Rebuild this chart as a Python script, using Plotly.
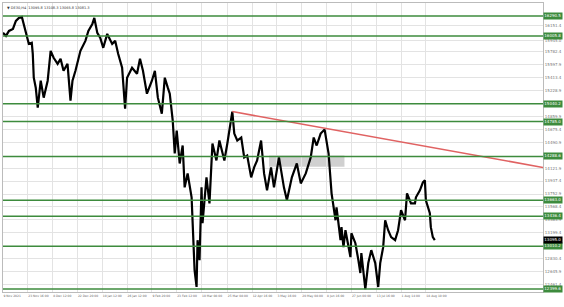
import plotly.graph_objects as go

# ---- data ----
bar_pos = [0,3,6,10,13,16,19,21,23,26,29,30,31,33,35,38,41,45,48,51,55,58,61,65,68,70,73,78,83,86,90,92,95,98,101,105,110,113,116,120,123,125,130,135,138,141,145,150,153,156,160,163,166,168,171,173,175,178,181,183,186,190,193,195,196,198,200,201,205,208,211,215,218,223,226,231,233,236,240,243,246,250,253,256,260,263,266,270,273,278,283,286,291,296,300,305,310,313,316,320,324,326,328,331,333,335,336,338,340,341,343,345,348,350,351,355,358,360,361,365,368,371,375,378,380,383,385,388,391,395,398,401,405,407,411,415,416,420,423,425,426,430,431,433,435]
close = [16049,16006,16077,16105,16219,16262,16276,16176,16077,15892,15907,15750,15410,15268,14984,15367,15126,15367,15793,15694,15608,15679,15509,15608,15083,15367,15509,15793,15935,16077,16176,16262,16049,15978,15836,16034,15892,15935,15750,15552,14970,15410,15552,15466,15679,15509,15182,15367,15509,15126,14898,15410,15268,15182,14799,14330,14657,14188,14444,13848,14046,13706,12669,12428,13095,12811,13848,13336,13990,13620,14472,14231,14515,14231,14472,14927,14614,14515,14558,14274,14302,13990,14132,14231,14515,14046,13805,14132,13848,14274,13848,13663,13990,14188,13904,14046,14274,14558,14444,14614,14671,14515,14330,13762,13564,13379,13564,13280,13095,13280,12996,13237,12996,12854,13194,13052,12811,12627,12910,12399,12769,12953,12769,12428,12769,12996,13379,13237,13138,13095,13237,13521,13379,13762,13620,13620,13706,13805,13919,13947,13663,13478,13280,13138,13095]

level_prices = [16290.5, 16005.8, 15040.2, 14785.0, 14288.6, 13663.0, 13436.4, 13010.2, 12399.6]
ytick_vals = [16151.4, 15945.0, 15782.4, 15597.9, 15413.4, 15228.9, 14859.9, 14675.4, 14490.9,
              14121.9, 13937.4, 13752.9, 13568.4, 13383.9, 13199.4, 12830.4, 12645.9, 12461.4]
xtick_pos = [0, 25, 50, 75, 100, 125, 150, 175, 200, 226, 251, 276, 301, 326, 351, 376, 401, 426]
xtick_text = ["9 Nov 2021", "23 Nov 16:00", "8 Dec 12:00", "22 Dec 20:00", "10 Jan 12:00", "26 Jan 12:00",
              "9 Feb 20:00", "23 Feb 12:00", "10 Mar 08:00", "25 Mar 08:00", "12 Apr 16:00", "3 May 16:00",
              "20 May 08:00", "8 Jun 16:00", "27 Jun 00:00", "13 Jul 16:00", "1 Aug 14:00", "18 Aug 10:00"]
trend_x = [231, 544]
trend_y = [14927, 14132]
zone_x = [268, 344]
zone_y = [14140, 14300]
last_price = 13095.0
title_text = "▼ DE30,H4  13095.8 13108.3 13065.8 13081.3"

GREEN = "#3d8b3d"
FONT = "DejaVu Sans"
fig = go.Figure()

fig.add_shape(type="rect", xref="x", yref="y", x0=zone_x[0], x1=zone_x[1], y0=zone_y[0], y1=zone_y[1],
              fillcolor="rgba(200,200,200,0.85)", line=dict(width=0), layer="below")

for p in level_prices:
    fig.add_shape(type="line", xref="paper", yref="y", x0=0, x1=1, y0=p, y1=p,
                  line=dict(color=GREEN, width=1.5))
    fig.add_annotation(xref="paper", yref="y", x=1.0, y=p, xanchor="left", yanchor="middle",
                       text=f"{p:.1f}", showarrow=False, bgcolor=GREEN,
                       font=dict(size=4, color="white", family=FONT), borderpad=0.3)

fig.add_trace(go.Scatter(x=bar_pos, y=close, mode="lines", line=dict(color="black", width=2.2),
                         hoverinfo="skip", showlegend=False))

fig.add_trace(go.Scatter(x=trend_x, y=trend_y, mode="lines", line=dict(color="#e06262", width=1.5),
                         hoverinfo="skip", showlegend=False))

fig.add_annotation(xref="paper", yref="y", x=1.0, y=last_price, xanchor="left", yanchor="middle",
                   text=f"{last_price:.1f}", showarrow=False, bgcolor="black",
                   font=dict(size=4, color="white", family=FONT), borderpad=0.3)

fig.add_annotation(xref="paper", yref="paper", x=0.004, y=0.997, xanchor="left", yanchor="top",
                   text=title_text, showarrow=False, font=dict(size=3.5, color="#333", family=FONT))

fig.update_layout(
    width=564, height=307,
    margin=dict(l=2, r=18, t=2, b=15),
    paper_bgcolor="white", plot_bgcolor="white",
    showlegend=False,
)
fig.update_xaxes(range=[0, 544], tickmode="array", tickvals=xtick_pos, ticktext=xtick_text,
                 tickangle=0, ticklabelposition="outside right",
                 tickfont=dict(size=3, color="#666", family=FONT),
                 showgrid=True, gridcolor="#e3e3e3", gridwidth=1, zeroline=False,
                 showline=True, linecolor="#bbbbbb", mirror=True, ticks="")
fig.update_yaxes(range=[12356.6, 16474.6], side="right", tickmode="array", tickvals=ytick_vals,
                 ticktext=[f"{v:.1f}" for v in ytick_vals], tickfont=dict(size=4, color="#777", family=FONT),
                 showgrid=True, gridcolor="#e3e3e3", gridwidth=1, zeroline=False,
                 showline=True, linecolor="#bbbbbb", mirror=True, ticks="")

fig.write_html("out.html")
